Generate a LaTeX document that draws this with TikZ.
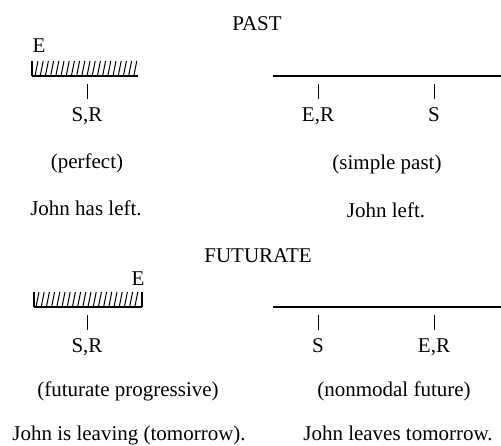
\documentclass[tikz,border=0pt]{standalone}
\usepackage{fontspec}
\setmainfont{Liberation Serif}
\usetikzlibrary{positioning}

\begin{document}
\begin{tikzpicture}[x=0.5pt,y=-0.5pt,line width=0.6pt,
        every node/.style={inner sep=0pt,font=\fontsize{10.5}{12.6}\selectfont},
        txt/.style={anchor=base},
        tick/.style={line width=0.5pt}]
        \useasboundingbox (0,0) rectangle (501,445);
        % past
        \node [txt] (past) at (257,30) {PAST};
        \coordinate (a1) at (32,76);
        \coordinate (a2) at (138,76);
        \node [anchor=base west] (ea) at (32,52) {E};
        \draw (a1) -- (a2);
        \draw (a1) -- ++(0,-15);
        \foreach \i in {0,...,19}
            \draw [tick] (35+\i*5.2,76) -- ++(3,-15);
        \coordinate (ta) at (87,84);
        \coordinate (ta2) at (87,99);
        \draw [tick] (ta) -- (ta2);
        \node [below=4pt of ta2] (sra) {S,R};
        \coordinate (b1) at (273,76);
        \coordinate (b2) at (501,76);
        \draw (b1) -- (b2);
        \coordinate (tb) at (318,84);
        \coordinate (tb2) at (318,99);
        \coordinate (tc) at (434,84);
        \coordinate (tc2) at (434,99);
        \draw [tick] (tb) -- (tb2);
        \draw [tick] (tc) -- (tc2);
        \node [below=4pt of tb2] (erb) {E,R};
        \node [below=4pt of tc2] (sb) {S};
        \node [txt] (perfect) at (87,168) {(perfect)};
        \node [txt] (simple) at (387,169) {(simple past)};
        \node [txt] (john1) at (86,215) {John has left.};
        \node [txt] (john2) at (386,217) {John left.};
        % futurate
        \node [txt] (futurate) at (258,262) {FUTURATE};
        \coordinate (c1) at (34,307);
        \coordinate (c2) at (142,307);
        \node [anchor=base east] (ec) at (145,285) {E};
        \draw (c1) -- (c2);
        \draw (c1) -- ++(0,-15);
        \draw (c2) -- ++(0,-15);
        \foreach \i in {0,...,19}
            \draw [tick] (36+\i*5.2,307) -- ++(3,-15);
        \coordinate (td) at (87,315);
        \coordinate (td2) at (87,330);
        \draw [tick] (td) -- (td2);
        \node [below=4pt of td2] (src) {S,R};
        \coordinate (d1) at (273,307);
        \coordinate (d2) at (501,307);
        \draw (d1) -- (d2);
        \coordinate (te) at (318,315);
        \coordinate (te2) at (318,330);
        \coordinate (tf) at (434,315);
        \coordinate (tf2) at (434,330);
        \draw [tick] (te) -- (te2);
        \draw [tick] (tf) -- (tf2);
        \node [below=4pt of te2] (sd) {S};
        \node [below=4pt of tf2] (erd) {E,R};
        \node [txt] (progressive) at (128,396) {(futurate progressive)};
        \node [txt] (nonmodal) at (394,396) {(nonmodal future)};
        \node [txt] (john3) at (129,440) {John is leaving (tomorrow).};
        \node [txt] (john4) at (398,440) {John leaves tomorrow.};
    \end{tikzpicture}
\end{document}
